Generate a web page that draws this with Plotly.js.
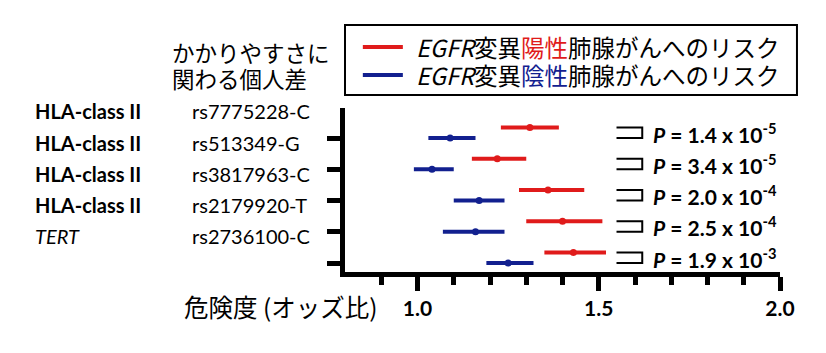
<!DOCTYPE html>
<html>
<head>
<meta charset="utf-8">
<script src="https://cdn.plot.ly/plotly-3.0.1.min.js"></script>
<style>html,body{margin:0;padding:0;background:#fff;}#chart{width:826px;height:353px;}</style>
</head>
<body>
<div id="chart"></div>
<script>
// ---- data ----
const genes = ['HLA-class II', 'HLA-class II', 'HLA-class II', 'HLA-class II', 'TERT'];
const snps = ['rs7775228-C', 'rs513349-G', 'rs3817963-C', 'rs2179920-T', 'rs2736100-C'];
const orPos = [1.31, 1.22, 1.36, 1.40, 1.43];
const loPos = [1.23, 1.15, 1.28, 1.30, 1.35];
const hiPos = [1.39, 1.30, 1.46, 1.51, 1.52];
const orNeg = [1.09, 1.04, 1.17, 1.16, 1.25];
const loNeg = [1.03, 0.99, 1.10, 1.07, 1.19];
const hiNeg = [1.16, 1.10, 1.24, 1.24, 1.32];
const pMant = ['1.4', '3.4', '2.0', '2.5', '1.9'];
const pExp = ['-5', '-5', '-4', '-4', '-3'];
const seriesNames = ['<i>EGFR</i>変異<span style="color:#e01b1b">陽性</span>肺腺がんへのリスク',
                     '<i>EGFR</i>変異<span style="color:#12208f">陰性</span>肺腺がんへのリスク'];
const xTicks = [1.0, 1.5, 2.0];
const xTickText = ['1.0', '1.5', '2.0'];
const xMinor = [0.9, 1.1, 1.2, 1.3, 1.4, 1.6, 1.7, 1.8, 1.9];

// ---- layout helpers ----
const RED = '#e01b1b', BLUE = '#12208f';
const n = snps.length;
const rowY = snps.map((_, i) => n - i);          // blue rows on tick positions
const redOff = 0.34;
const redY = rowY.map(v => v + redOff);
const LAT = 'Lato, "Noto Sans CJK JP", sans-serif';
const CJK = '"Noto Sans CJK JP", Lato, sans-serif';

function errTrace(x, lo, hi, y, color, name) {
  return {
    type: 'scatter', mode: 'markers', x: x, y: y, name: name, showlegend: false,
    marker: {color: color, size: 7},
    error_x: {type: 'data', symmetric: false,
      array: hi.map((h, i) => h - x[i]), arrayminus: lo.map((l, i) => x[i] - l),
      thickness: 4, width: 0, color: color},
    cliponaxis: false, hoverinfo: 'skip'
  };
}

const traces = [
  errTrace(orPos, loPos, hiPos, redY, RED, 'pos'),
  errTrace(orNeg, loNeg, hiNeg, rowY, BLUE, 'neg')
];

const annotations = [];
const shapes = [];

// column header
annotations.push({xref: 'paper', yref: 'paper', x: -0.402, y: 1.341, xanchor: 'left', yanchor: 'middle',
  text: 'かかりやすさに', showarrow: false, font: {family: CJK, size: 22.5, color: '#000'}});
annotations.push({xref: 'paper', yref: 'paper', x: -0.402, y: 1.183, xanchor: 'left', yanchor: 'middle',
  text: '関わる個人差', showarrow: false, font: {family: CJK, size: 22.5, color: '#000'}});

// row labels + P values + brackets
const bx0 = 1.549, bx1 = 1.62;
for (let i = 0; i < n; i++) {
  const isHLA = genes[i].startsWith('HLA');
  annotations.push({xref: 'paper', yref: 'y', x: -0.717, y: rowY[i] + 0.85, xanchor: 'left', yanchor: 'middle',
    text: isHLA ? genes[i] : '<i>' + genes[i] + '</i>', showarrow: false,
    font: {family: LAT, size: 20, color: '#000', weight: isHLA ? 'bold' : 'normal'}});
  annotations.push({xref: 'paper', yref: 'y', x: -0.356, y: rowY[i] + 0.85, xanchor: 'left', yanchor: 'middle',
    text: snps[i], showarrow: false, font: {family: LAT, size: 20, color: '#000'}});
  annotations.push({xref: 'x', yref: 'y', x: 1.643, y: rowY[i] + redOff / 2, xanchor: 'left', yanchor: 'middle',
    text: '<i>P</i> = ' + pMant[i] + ' x 10<sup>' + pExp[i] + '</sup>', showarrow: false,
    font: {family: LAT, size: 21, color: '#000', weight: 'bold'}});
  shapes.push({type: 'path', xref: 'x', yref: 'y',
    path: `M ${bx0},${redY[i]} L ${bx1},${redY[i]} L ${bx1},${rowY[i]} L ${bx0},${rowY[i]}`,
    line: {color: '#000', width: 2}});
}

// x title
annotations.push({xref: 'paper', yref: 'paper', x: 0.08, y: -0.21, xanchor: 'right', yanchor: 'middle',
  text: '危険度 (オッズ比)', showarrow: false, font: {family: CJK, size: 24.5, color: '#000'}});

// legend box
shapes.push({type: 'rect', xref: 'paper', yref: 'paper', x0: 0, x1: 1.039, y0: 1.079, y1: 1.506,
  line: {color: '#000', width: 2}, fillcolor: 'rgba(0,0,0,0)'});
const legY = [1.372, 1.201];
const legC = [RED, BLUE];
for (let k = 0; k < 2; k++) {
  shapes.push({type: 'line', xref: 'paper', yref: 'paper', x0: 0.041, x1: 0.133, y0: legY[k], y1: legY[k],
    line: {color: legC[k], width: 4}});
  annotations.push({xref: 'paper', yref: 'paper', x: 0.158, y: legY[k], xanchor: 'left', yanchor: 'middle',
    text: seriesNames[k], showarrow: false, font: {family: CJK, size: 23.5, color: '#000'}});
}

const layout = {
  width: 826, height: 353,
  margin: {l: 345, r: 46, t: 108, b: 81},
  paper_bgcolor: '#fff', plot_bgcolor: '#fff',
  showlegend: false,
  xaxis: {
    range: [0.8, 2.0], showgrid: false, zeroline: false,
    showline: true, linewidth: 5, linecolor: '#000',
    tickmode: 'array', tickvals: xTicks, ticktext: xTickText,
    ticks: 'outside', ticklen: 14, tickwidth: 5, tickcolor: '#000',
    tickfont: {family: LAT, size: 21, color: '#000', weight: 'bold'},
    minor: {tickmode: 'array', tickvals: xMinor, ticks: 'outside', ticklen: 8, tickwidth: 5, tickcolor: '#000'},
    fixedrange: true
  },
  yaxis: {
    range: [0.712, 5.96], showgrid: false, zeroline: false,
    showline: true, linewidth: 5, linecolor: '#000',
    tickmode: 'array', tickvals: rowY, showticklabels: false,
    ticks: 'outside', ticklen: 13, tickwidth: 5, tickcolor: '#000',
    fixedrange: true
  },
  annotations: annotations,
  shapes: shapes
};

Plotly.newPlot('chart', traces, layout, {staticPlot: true, displayModeBar: false});
</script>
</body>
</html>
